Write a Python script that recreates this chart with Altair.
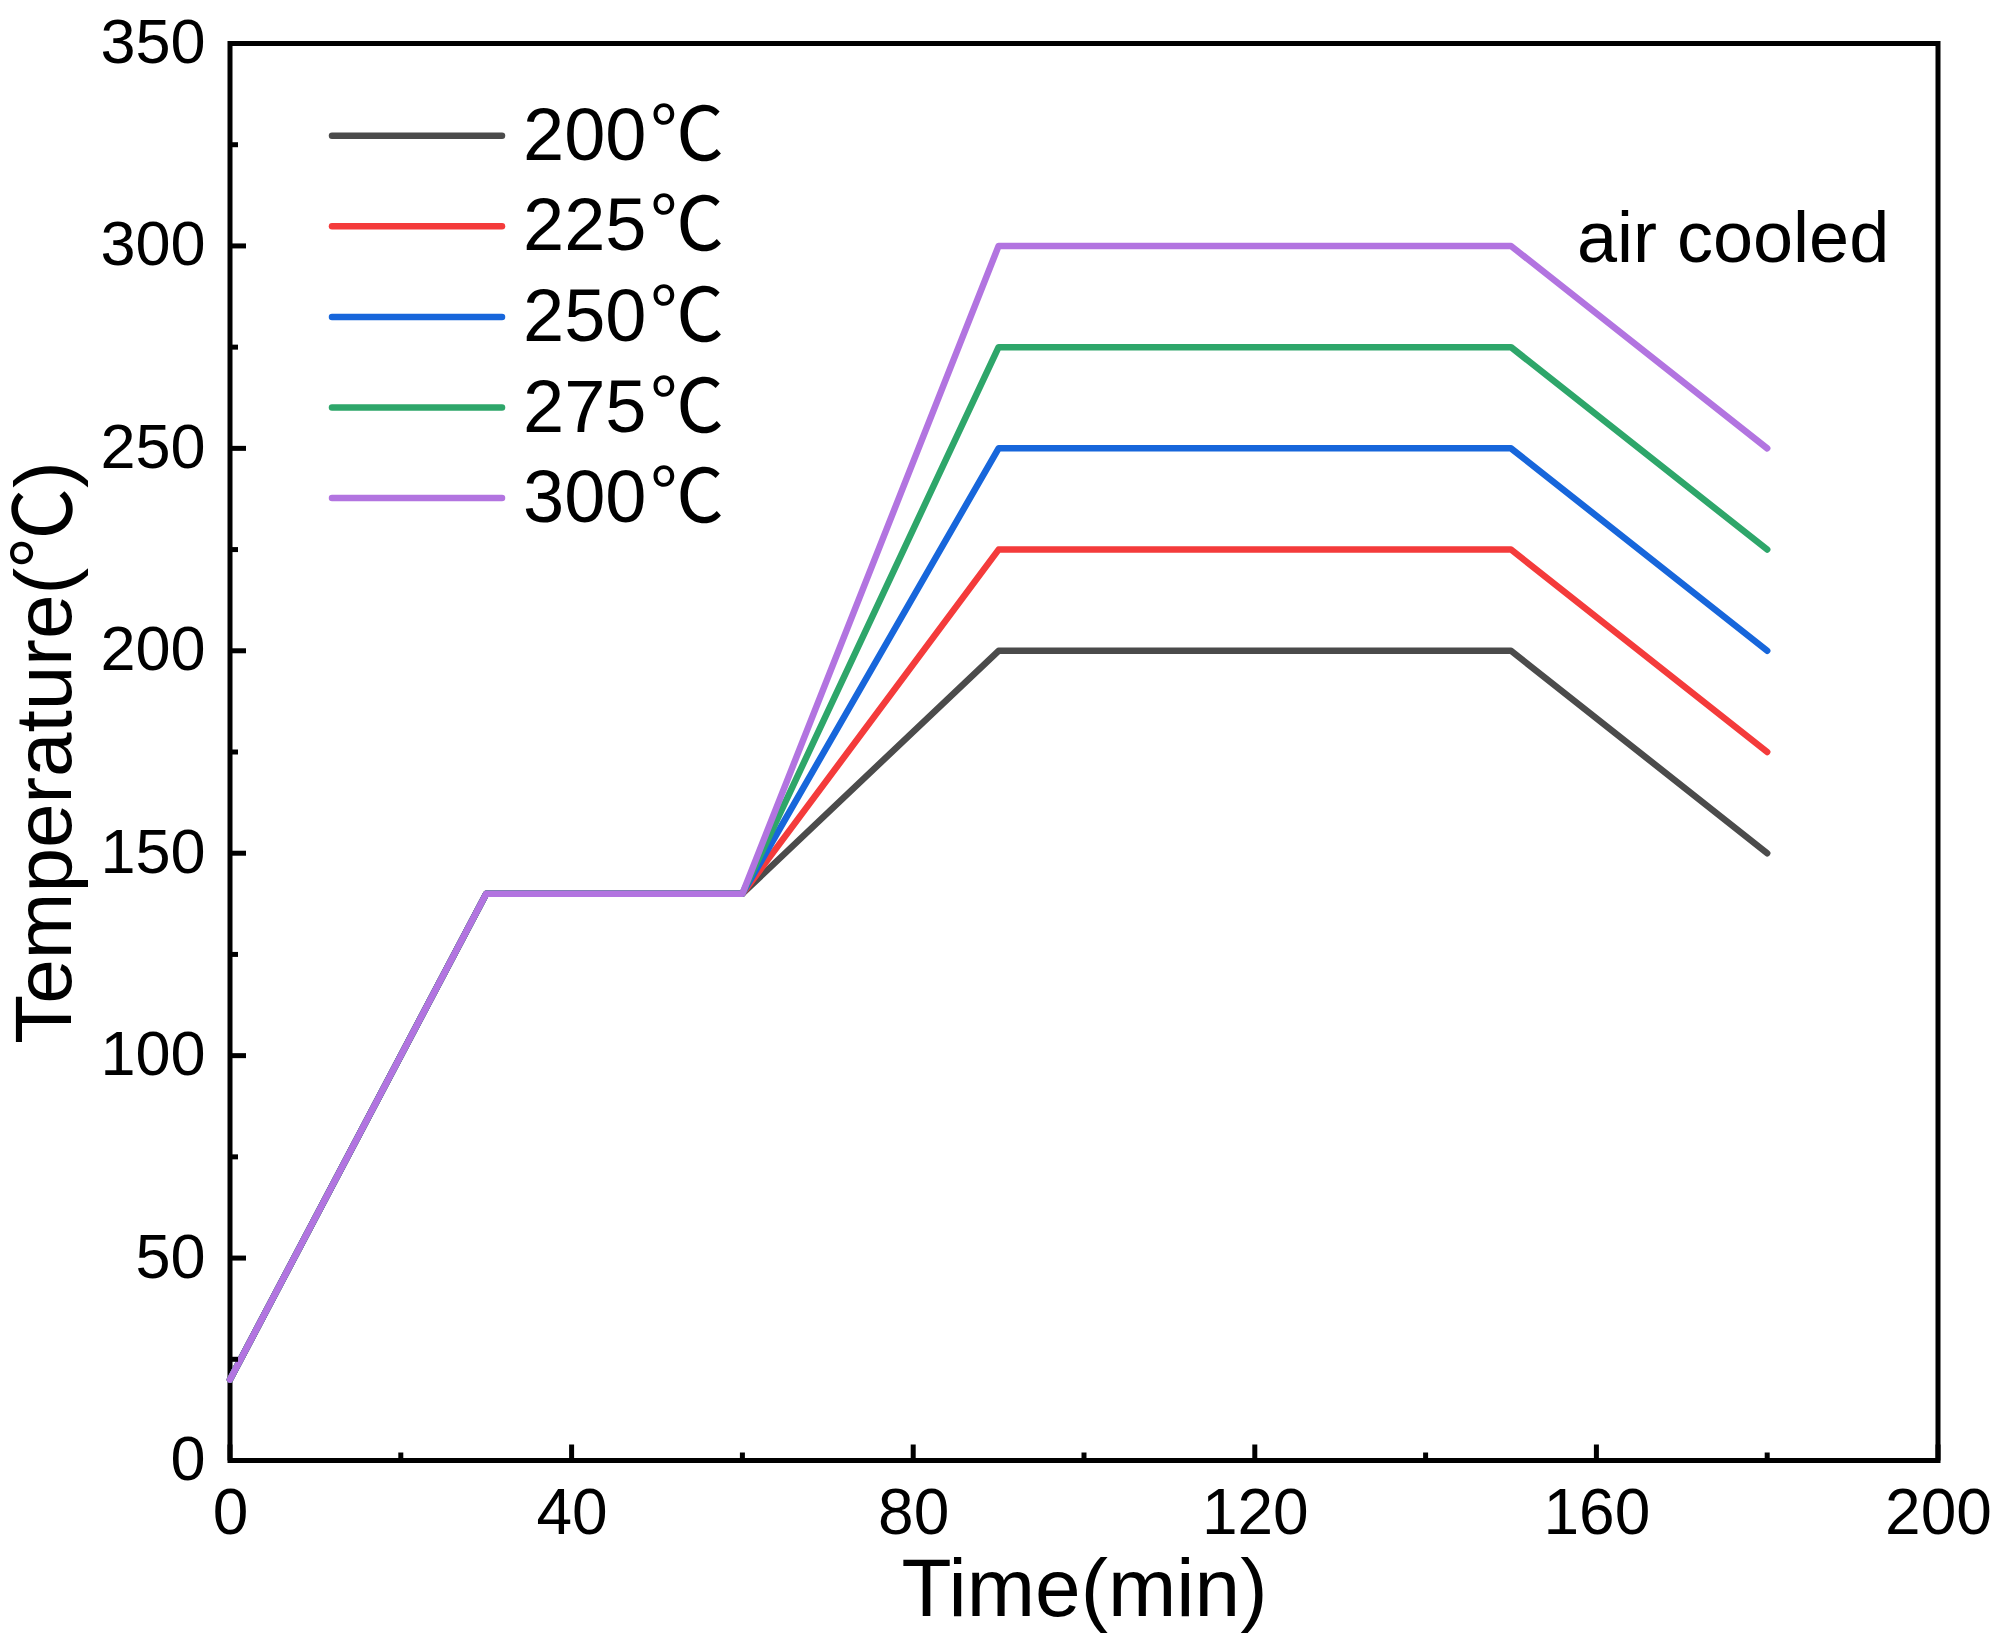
import altair as alt
import pandas as pd

# Heat-treatment schedules: time (min) vs furnace temperature (°C)
time_min = [0, 30, 60, 90, 150, 180]
series_labels = ["200℃", "225℃", "250℃", "275℃", "300℃"]
series_numbers = ["200", "225", "250", "275", "300"]
temp_200 = [20, 140, 140, 200, 200, 150]
temp_225 = [20, 140, 140, 225, 225, 175]
temp_250 = [20, 140, 140, 250, 250, 200]
temp_275 = [20, 140, 140, 275, 275, 225]
temp_300 = [20, 140, 140, 300, 300, 250]
series_temps = [temp_200, temp_225, temp_250, temp_275, temp_300]
series_colors = ["#4B4B4B", "#F43B3B", "#1766DB", "#2EA66A", "#B274E0"]

x_major = [0, 40, 80, 120, 160, 200]
x_minor = [20, 60, 100, 140, 180]
y_major = [0, 50, 100, 150, 200, 250, 300, 350]
y_minor = [25, 75, 125, 175, 225, 275, 325]

FONT = "Liberation Sans, Arial, Noto Sans CJK SC"
W, H = 1708, 1417
LEFT, TOP = 230, 43.5

x_scale = alt.Scale(domain=[0, 200], nice=False, zero=False)
y_scale = alt.Scale(domain=[0, 350], nice=False, zero=False)

x_axis = alt.Axis(
    values=x_major, title="Time(min)", grid=False, domain=False, ticks=False,
    tickSize=0, labelFontSize=64, labelPadding=22, labelFont=FONT,
    labelFlush=False, labelOverlap=False, labelBound=False,
    labelColor="black", titleFont=FONT, titleFontSize=82, titleFontWeight="normal",
    titleColor="black", titleBaseline="alphabetic", titleY=155,
    titleX=W / 2, titleAlign="center",
)
y_axis = alt.Axis(
    values=y_major, title="Temperature(℃)", grid=False, domain=False, ticks=False,
    tickSize=0, labelFontSize=63, labelPadding=25, labelFont=FONT,
    labelFlush=False, labelOverlap=False, labelBound=False,
    labelColor="black", titleFont=FONT, titleFontSize=80, titleFontWeight="normal",
    titleColor="black", titleAngle=-90, titleBaseline="alphabetic",
    titleX=70 - LEFT, titleY=H / 2, titleAlign="center",
)

layers = []

# one line per schedule, drawn in order so the 300℃ curve sits on top
for label, temps, color in zip(series_labels, series_temps, series_colors):
    df = pd.DataFrame({"time": time_min, "temp": temps, "series": label})
    line = alt.Chart(df).mark_line(
        color=color, strokeWidth=6.5, strokeCap="round", strokeJoin="round"
    ).encode(
        x=alt.X("time:Q", scale=x_scale, axis=x_axis),
        y=alt.Y("temp:Q", scale=y_scale, axis=y_axis),
    )
    layers.append(line)

# inward tick marks on the bottom and left edges
def x_ticks(values, length):
    return alt.Chart(pd.DataFrame({"v": values})).mark_rule(
        color="black", strokeWidth=5
    ).encode(
        x=alt.X("v:Q", scale=x_scale),
        y=alt.value(H),
        y2=alt.value(H - length),
    )


def y_ticks(values, length):
    return alt.Chart(pd.DataFrame({"v": values})).mark_rule(
        color="black", strokeWidth=5
    ).encode(
        y=alt.Y("v:Q", scale=y_scale),
        x=alt.value(0),
        x2=alt.value(length),
    )


layers += [x_ticks(x_major, 16), x_ticks(x_minor, 8),
           y_ticks(y_major, 16), y_ticks(y_minor, 8)]

# legend block, top left inside the frame
legend_x0, legend_x1, legend_text_x, legend_unit_x = 102, 272, 293, 420
legend_y0, legend_step = 92.2, 90.6
legend_df = pd.DataFrame({"num": series_numbers, "unit": ["℃"] * len(series_numbers)})
for i, color in enumerate(series_colors):
    ly = legend_y0 + i * legend_step
    row = legend_df.iloc[[i]]
    sym = alt.Chart(row).mark_rule(
        color=color, strokeWidth=6.5, strokeCap="round"
    ).encode(x=alt.value(legend_x0), x2=alt.value(legend_x1), y=alt.value(ly))
    num = alt.Chart(row).mark_text(
        align="left", baseline="middle", font=FONT, fontSize=74, color="black", dy=2
    ).encode(x=alt.value(legend_text_x), y=alt.value(ly), text="num:N")
    unit = alt.Chart(row).mark_text(
        align="left", baseline="middle", font=FONT, fontSize=74, color="black", dy=2
    ).encode(x=alt.value(legend_unit_x), y=alt.value(ly), text="unit:N")
    layers += [sym, num, unit]

# annotation for the cooling stage
note = alt.Chart(pd.DataFrame({"t": ["air cooled"]})).mark_text(
    align="left", baseline="alphabetic", font=FONT, fontSize=72, color="black"
).encode(x=alt.value(1347), y=alt.value(218.5), text="t:N")
layers.append(note)

chart = alt.layer(*layers).properties(
    width=W,
    height=H,
    autosize=alt.AutoSizeParams(type="none"),
    padding={"left": LEFT, "top": TOP, "right": 2008 - LEFT - W, "bottom": 1651 - TOP - H},
    background="white",
).configure_view(stroke="black", strokeWidth=5)

chart.save("out.html", embed_options={"renderer": "svg", "actions": False})
